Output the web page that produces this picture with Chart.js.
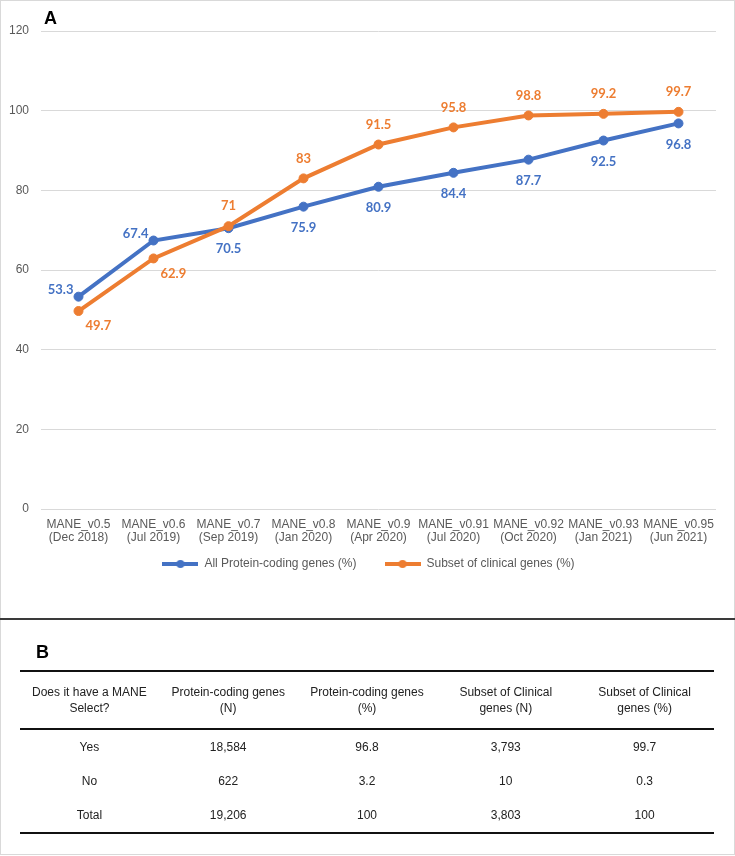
<!DOCTYPE html>
<html>
<head>
<meta charset="utf-8">
<script src="https://cdn.jsdelivr.net/npm/chart.js@4/dist/chart.umd.min.js"></script>
<style>
  body { margin: 0; background: #fff; font-family: "Liberation Sans", Arial, sans-serif; }
  #pagina { position: relative; width: 735px; height: 856px; overflow: hidden; }
  #panelA { position: absolute; left: 0; top: 0; width: 735px; height: 618px; box-sizing: border-box;
            border: 1px solid #d9d9d9; border-bottom: none; }
  #panelA canvas { position: absolute; left: 0; top: 0; }
  #divisor { position: absolute; left: 0; top: 618px; width: 735px; height: 2px; background: #3a3a3a; }
  #panelB { position: absolute; left: 0; top: 620px; width: 735px; height: 235px; box-sizing: border-box;
            border: 1px solid #d9d9d9; border-top: none; }
  .letra { position: absolute; font-weight: bold; font-size: 18px; color: #000; }
  table { position: absolute; left: 19px; top: 50px; width: 694px; border-collapse: collapse;
          font-size: 12px; color: #222; table-layout: fixed; }
  th, td { text-align: center; font-weight: normal; padding: 0; }
  thead th { height: 56px; line-height: 16px; border-top: 2px solid #111; border-bottom: 2px solid #111; }
  tbody td { height: 34px; }
  tbody tr:last-child td { border-bottom: 2px solid #111; }
</style>
</head>
<body>
<div id="pagina">
  <div id="panelA">
    <canvas id="grafico" width="735" height="618"></canvas>
    <div class="letra" style="left:43px; top:7px;">A</div>
  </div>
  <div id="divisor"></div>
  <div id="panelB">
    <div class="letra" style="left:35px; top:22px;">B</div>
    <table>
      <thead>
        <tr>
          <th>Does it have a MANE<br>Select?</th>
          <th>Protein-coding genes<br>(N)</th>
          <th>Protein-coding genes<br>(%)</th>
          <th>Subset of Clinical<br>genes (N)</th>
          <th>Subset of Clinical<br>genes (%)</th>
        </tr>
      </thead>
      <tbody id="cuerpoTabla"></tbody>
    </table>
  </div>
</div>

<script>
// Datos del gráfico A
const versiones = [
  ["MANE_v0.5", "(Dec 2018)"],
  ["MANE_v0.6", "(Jul 2019)"],
  ["MANE_v0.7", "(Sep 2019)"],
  ["MANE_v0.8", "(Jan 2020)"],
  ["MANE_v0.9", "(Apr 2020)"],
  ["MANE_v0.91", "(Jul 2020)"],
  ["MANE_v0.92", "(Oct 2020)"],
  ["MANE_v0.93", "(Jan 2021)"],
  ["MANE_v0.95", "(Jun 2021)"],
];
const todosProteicos = [53.3, 67.4, 70.5, 75.9, 80.9, 84.4, 87.7, 92.5, 96.8];
const subsetClinico = [49.7, 62.9, 71, 83, 91.5, 95.8, 98.8, 99.2, 99.7];
const nombresSeries = ["All Protein-coding genes (%)", "Subset of clinical genes (%)"];
const ticksY = [0, 20, 40, 60, 80, 100, 120];

// Datos de la tabla B
const filasTabla = ["Yes", "No", "Total"];
const proteicosN = ["18,584", "622", "19,206"];
const proteicosPct = ["96.8", "3.2", "100"];
const clinicosN = ["3,793", "10", "3,803"];
const clinicosPct = ["99.7", "0.3", "100"];

const AZUL = "#4472C4";
const NARANJA = "#ED7D31";

// tabla
const cuerpo = document.getElementById("cuerpoTabla");
filasTabla.forEach((fila, i) => {
  const tr = document.createElement("tr");
  [fila, proteicosN[i], proteicosPct[i], clinicosN[i], clinicosPct[i]].forEach((v) => {
    const td = document.createElement("td");
    td.textContent = v;
    tr.appendChild(td);
  });
  cuerpo.appendChild(tr);
});

// marcador de leyenda: línea con punto
const marcadorLeyenda = (color) => {
  const c = document.createElement("canvas");
  c.width = 36;
  c.height = 12;
  const g = c.getContext("2d");
  g.strokeStyle = color;
  g.lineWidth = 4;
  g.beginPath();
  g.moveTo(0, 6);
  g.lineTo(36, 6);
  g.stroke();
  g.fillStyle = color;
  g.beginPath();
  g.arc(18, 6, 4, 0, Math.PI * 2);
  g.fill();
  return c;
};

// etiquetas de datos (no hay plugin datalabels)
const etiquetasDatos = {
  id: "etiquetasDatos",
  afterDatasetsDraw(chart, args, opts) {
    const ctx = chart.ctx;
    ctx.save();
    ctx.font = "bold 13px Lato, 'Open Sans', sans-serif";
    ctx.textBaseline = "middle";
    chart.data.datasets.forEach((ds, di) => {
      const meta = chart.getDatasetMeta(di);
      const posiciones = opts.posiciones[di];
      ctx.fillStyle = ds.borderColor;
      meta.data.forEach((pt, i) => {
        const pos = posiciones[i];
        let x = pt.x, y = pt.y;
        if (pos === "izq") {
          ctx.textAlign = "right";
          x -= 5;
          y -= 7;
        } else if (pos === "der") {
          ctx.textAlign = "left";
          x += 7;
          y += 15;
        } else if (pos === "arriba") {
          ctx.textAlign = "center";
          y -= 20;
        } else {
          ctx.textAlign = "center";
          y += 21;
        }
        ctx.fillText(String(ds.data[i]), x, y);
      });
    });
    ctx.restore();
  },
};

// la leyenda va un poco más arriba y centrada como en el original
const ajusteLeyenda = {
  id: "ajusteLeyenda",
  afterLayout(chart) {
    const ley = chart.legend;
    ley.top -= 29;
    ley.bottom -= 29;
    ley.left += 20;
  },
};

const fuenteEjes = { family: "'Liberation Sans', Arial, sans-serif", size: 12, lineHeight: 1.1 };

new Chart(document.getElementById("grafico"), {
  type: "line",
  data: {
    labels: versiones,
    datasets: [
      {
        label: nombresSeries[0],
        data: todosProteicos,
        borderColor: AZUL,
        backgroundColor: AZUL,
        borderWidth: 4,
        pointRadius: 4.5,
        pointBorderWidth: 1,
        tension: 0,
        order: 1,
      },
      {
        label: nombresSeries[1],
        data: subsetClinico,
        borderColor: NARANJA,
        backgroundColor: NARANJA,
        borderWidth: 4,
        pointRadius: 4.5,
        pointBorderWidth: 1,
        tension: 0,
        order: 0,
      },
    ],
  },
  options: {
    responsive: false,
    animation: false,
    layout: { padding: { top: 30, right: 20, left: 0, bottom: 10 } },
    plugins: {
      tooltip: { enabled: false },
      etiquetasDatos: {
        posiciones: [
          ["izq", "izq", "abajo", "abajo", "abajo", "abajo", "abajo", "abajo", "abajo"],
          ["der", "der", "arriba", "arriba", "arriba", "arriba", "arriba", "arriba", "arriba"],
        ],
      },
      legend: {
        position: "bottom",
        labels: {
          usePointStyle: true,
          pointStyleWidth: 36,
          padding: 28,
          color: "#595959",
          font: fuenteEjes,
          generateLabels: (chart) =>
            chart.data.datasets.map((ds, i) => ({
              text: ds.label,
              fillStyle: ds.borderColor,
              strokeStyle: ds.borderColor,
              fontColor: "#595959",
              pointStyle: marcadorLeyenda(ds.borderColor),
              lineWidth: 0,
              hidden: false,
              datasetIndex: i,
            })),
        },
      },
    },
    scales: {
      x: {
        offset: true,
        grid: { display: false },
        border: { display: false },
        ticks: { color: "#595959", font: fuenteEjes, maxRotation: 0, autoSkip: false, padding: 1 },
        afterFit: (escala) => {
          escala.height = 50;
        },
      },
      y: {
        min: 0,
        max: 120,
        afterBuildTicks: (escala) => {
          escala.ticks = ticksY.map((v) => ({ value: v }));
        },
        grid: { color: "#d9d9d9", lineWidth: 1, drawTicks: false },
        border: { display: false },
        ticks: { color: "#595959", font: fuenteEjes, padding: 12 },
        afterFit: (escala) => {
          escala.width = 40;
        },
      },
    },
  },
  plugins: [etiquetasDatos, ajusteLeyenda],
});
</script>
</body>
</html>
